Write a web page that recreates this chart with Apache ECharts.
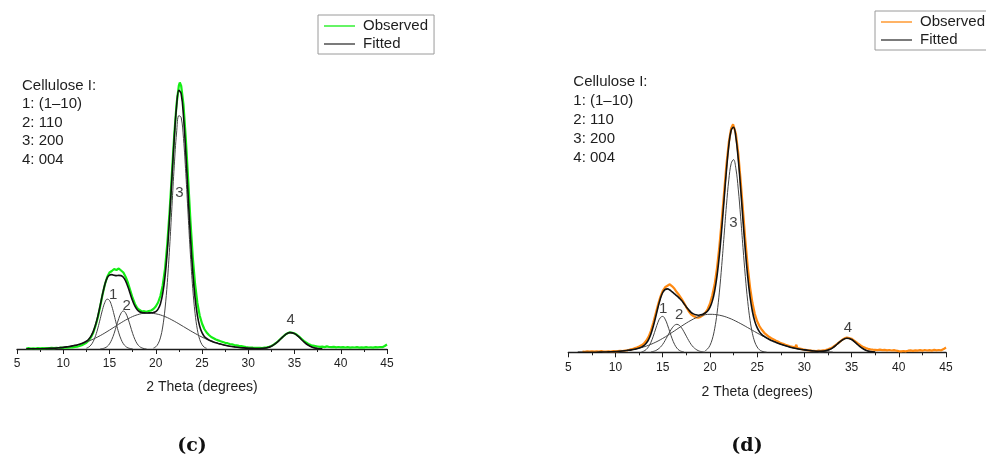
<!DOCTYPE html>
<html>
<head>
<meta charset="utf-8">
<script src="https://cdn.jsdelivr.net/npm/echarts@6/dist/echarts.min.js"></script>
<style>
html, body { margin: 0; padding: 0; background: #fff; }
#wrap { position: relative; width: 986px; height: 457px; overflow: hidden; }
.panel { position: absolute; top: 0; width: 493px; height: 457px; }
</style>
</head>
<body>
<div id="wrap">
	<div id="chartC" class="panel" style="left:0"></div>
	<div id="chartD" class="panel" style="left:493px"></div>
</div>
<script>
// intensities, arbitrary units, [2theta, I]
const cellNotes = ['Cellulose I:', '1: (1–10)', '2: 110', '3: 200', '4: 004'];

// ---- panel (c)
const obsC = [[6,0.5],[6.25,0.8],[6.5,0.4],[6.75,0.7],[7,0.5],[7.25,0.9],[7.5,0.6],[7.75,0.8],[8,0.7],[8.25,1.0],[8.5,0.8],[8.75,1.1],[9,0.9],[9.25,1.2],[9.5,1.0],[9.75,1.3],[10,1.1],[10.25,1.5],[10.5,1.3],[10.75,1.7],[11,1.6],[11.25,2.1],[11.5,2.4],[11.75,3.0],[12,3.8],[12.25,5.0],[12.5,6.3],[12.75,8.5],[13,11.8],[13.25,16.5],[13.5,23.5],[13.75,32.0],[14,43.0],[14.25,54.5],[14.5,64.5],[14.75,72.0],[15,76.5],[15.25,78.0],[15.5,80.0],[15.75,79.0],[16,80.5],[16.25,78.5],[16.5,76.5],[16.75,72.0],[17,66.0],[17.25,58.5],[17.5,51.0],[17.75,45.0],[18,41.0],[18.25,39.0],[18.5,37.5],[18.75,37.8],[19,37.2],[19.25,38.0],[19.5,38.5],[19.75,40.0],[20,42.5],[20.25,46.5],[20.5,53.0],[20.75,63.5],[21,80.0],[21.25,105.5],[21.5,138.0],[21.75,176.0],[22,214.0],[22.25,245.0],[22.5,263.5],[22.6,266.5],[22.75,263.0],[23,244.0],[23.25,210.0],[23.5,170.0],[23.75,128.0],[24,92.0],[24.25,65.0],[24.5,46.0],[24.75,33.5],[25,25.5],[25.25,20.0],[25.5,16.5],[25.75,14.0],[26,12.0],[26.25,10.8],[26.5,9.5],[26.75,8.6],[27,7.8],[27.25,7.0],[27.5,6.2],[27.75,5.8],[28,5.0],[28.25,4.6],[28.5,4.0],[28.75,3.6],[29,3.1],[29.25,2.8],[29.5,2.4],[29.75,2.0],[30,1.7],[30.25,1.5],[30.5,1.3],[30.75,1.2],[31,1.1],[31.25,1.2],[31.5,1.0],[31.75,1.4],[32,1.6],[32.25,2.2],[32.5,3.0],[32.75,4.3],[33,6.0],[33.25,8.0],[33.5,10.2],[33.75,12.3],[34,14.4],[34.25,15.8],[34.5,16.8],[34.75,16.2],[35,15.6],[35.25,14.2],[35.5,12.4],[35.75,10.3],[36,8.2],[36.25,6.5],[36.5,5.1],[36.75,4.0],[37,3.3],[37.25,2.9],[37.5,2.5],[37.75,2.1],[38,2.3],[38.25,1.9],[38.5,2.6],[38.75,2.0],[39,1.8],[39.25,2.2],[39.5,1.7],[39.75,2.0],[40,1.6],[40.25,1.9],[40.5,1.5],[40.75,1.8],[41,1.4],[41.25,1.7],[41.5,1.5],[41.75,1.9],[42,1.4],[42.25,1.6],[42.5,1.3],[42.75,1.8],[43,1.5],[43.25,1.7],[43.5,1.4],[43.75,1.9],[44,1.6],[44.25,2.0],[44.5,1.8],[44.75,3.0],[45,4.5]];
const fitC = [[6,0.1],[6.5,0.1],[7,0.2],[7.5,0.2],[8,0.4],[8.5,0.6],[9,0.8],[9.5,1.2],[10,1.6],[10.5,2.3],[11,3.1],[11.25,3.6],[11.5,4.1],[11.75,4.8],[12,5.5],[12.25,6.5],[12.5,7.8],[12.75,9.8],[13,12.9],[13.25,17.6],[13.5,24.4],[13.75,33.3],[14,43.8],[14.25,54.8],[14.5,64.5],[14.75,71.2],[15,73.8],[15.25,74.4],[15.5,73.8],[15.75,73.4],[16,73.6],[16.25,73.4],[16.5,71.8],[16.75,67.9],[17,61.9],[17.25,54.9],[17.5,48.2],[17.75,42.8],[18,39.3],[18.25,37.3],[18.5,36.5],[18.75,36.1],[19,36.0],[19.25,36.1],[19.5,36.2],[19.75,36.5],[20,37.4],[20.25,39.9],[20.5,45.1],[20.75,55.3],[21,72.4],[21.25,98.0],[21.5,132.0],[21.75,171.6],[22,211.0],[22.25,242.5],[22.5,258.6],[22.75,255.2],[23,232.8],[23.25,196.4],[23.5,153.7],[23.75,112.3],[24,77.4],[24.25,51.3],[24.5,33.6],[24.75,22.7],[25,16.3],[25.25,12.6],[25.5,10.5],[25.75,9.0],[26,7.9],[26.25,7.0],[26.5,6.2],[26.75,5.5],[27,4.9],[27.5,3.7],[28,2.8],[28.5,2.1],[29,1.5],[29.5,1.1],[30,0.8],[30.5,0.6],[31,0.4],[31.5,0.6],[32,1.2],[32.5,2.8],[33,5.8],[33.5,10.0],[34,14.2],[34.5,16.4],[35,15.4],[35.5,11.8],[36,7.3],[36.5,3.7],[37,1.5],[37.5,0.5],[38,0.1]];
const peak1C = [[12.5,0.8],[12.75,1.9],[13,4.0],[13.25,7.7],[13.5,13.4],[13.75,21.1],[14,30.3],[14.25,39.5],[14.5,46.6],[14.75,49.9],[15,48.5],[15.25,42.7],[15.5,34.1],[15.75,24.7],[16,16.2],[16.25,9.7],[16.5,5.2],[16.75,2.6],[17,1.1],[17.25,0.5],[17.5,0.2]];
const peak2C = [[14,0.1],[14.25,0.4],[14.5,1.1],[14.75,2.5],[15,5.1],[15.25,9.5],[15.5,15.6],[15.75,23.1],[16,30.4],[16.25,35.9],[16.5,38],[16.75,35.9],[17,30.4],[17.25,23.1],[17.5,15.6],[17.75,9.5],[18,5.1],[18.25,2.5],[18.5,1.1],[18.75,0.4],[19,0.1]];
const amorphC = [[7,0.2],[8,0.4],[9,0.8],[10,1.6],[11,3.1],[12,5.4],[13,8.9],[14,13.4],[15,18.9],[16,24.8],[17,30.2],[18,34.2],[19,35.9],[20,35.2],[21,32.4],[22,27.8],[23,22.4],[24,16.9],[25,11.9],[26,7.9],[27,4.9],[28,2.8],[29,1.5],[30,0.8],[31,0.4],[32,0.2]];
const peak3C = [[19.75,0.9],[20,2.2],[20.25,5.2],[20.5,11.1],[20.75,22.0],[21,40.0],[21.25,66.6],[21.5,101.7],[21.75,142.5],[22,183.2],[22.25,216.0],[22.5,233.4],[22.75,231.4],[23,210.4],[23.25,175.4],[23.5,134.1],[23.75,94.1],[24,60.5],[24.25,35.7],[24.5,19.3],[24.75,9.6],[25,4.4],[25.25,1.8],[25.5,0.7]];
const peak4C = [[31.5,0.3],[32,1.0],[32.5,2.7],[33,5.7],[33.5,10.0],[34,14.2],[34.5,16.4],[35,15.4],[35.5,11.8],[36,7.3],[36.5,3.7],[37,1.5],[37.5,0.5],[38,0.1]];
const labelsC = [[15.41,54,'1'],[16.86,43.3,'2'],[22.55,155.7,'3'],[34.59,29,'4']];

// ---- panel (d)
const obsD = [[6.5,0.8],[6.75,0.5],[7,0.9],[7.25,0.6],[7.5,1.0],[7.75,0.7],[8,0.9],[8.25,0.6],[8.5,1.1],[8.75,0.8],[9,0.7],[9.25,1.0],[9.5,0.8],[9.75,1.1],[10,0.9],[10.25,1.2],[10.5,1.4],[10.75,1.3],[11,1.8],[11.25,2.0],[11.5,2.6],[11.75,3.1],[12,3.9],[12.25,4.8],[12.5,5.8],[12.75,7.0],[13,8.8],[13.25,11.5],[13.5,15.5],[13.75,21.5],[14,29.5],[14.25,38.5],[14.5,47.5],[14.75,55.5],[15,61.5],[15.25,65.0],[15.5,66.5],[15.75,68.0],[16,66.0],[16.25,63.5],[16.5,60.0],[16.75,57.0],[17,53.5],[17.25,49.5],[17.5,45.0],[17.75,41.0],[18,38.0],[18.25,36.2],[18.5,35.0],[18.75,34.6],[19,35.4],[19.25,37.0],[19.5,39.5],[19.75,43.0],[20,48.5],[20.25,57.0],[20.5,68.0],[20.75,84.5],[21,106.0],[21.25,132.0],[21.5,160.0],[21.75,188.0],[22,210.0],[22.25,224.0],[22.45,228.0],[22.5,227.0],[22.75,218.5],[23,199.0],[23.25,172.0],[23.5,142.0],[23.75,112.0],[24,86.0],[24.25,65.0],[24.5,49.5],[24.75,38.5],[25,31.0],[25.25,26.0],[25.5,22.5],[25.75,19.5],[26,17.5],[26.25,15.5],[26.5,14.0],[26.75,12.8],[27,11.5],[27.25,10.5],[27.5,9.2],[27.75,8.5],[28,7.5],[28.25,6.8],[28.5,6.0],[28.75,5.4],[29,4.8],[29.15,7.5],[29.25,4.2],[29.5,3.8],[29.75,3.2],[30,2.6],[30.25,2.2],[30.5,1.9],[30.75,1.6],[31,1.5],[31.25,1.3],[31.5,1.6],[31.75,1.4],[32,1.9],[32.25,2.2],[32.5,3.0],[32.75,3.9],[33,5.1],[33.25,6.8],[33.5,8.6],[33.75,10.5],[34,12.4],[34.25,13.9],[34.5,14.8],[34.75,14.2],[35,13.6],[35.25,11.8],[35.5,10.2],[35.75,8.3],[36,6.6],[36.25,5.2],[36.5,4.2],[36.75,3.5],[37,3.0],[37.25,2.7],[37.5,2.5],[37.75,2.2],[38,2.6],[38.25,2.1],[38.5,2.4],[38.75,1.9],[39,2.3],[39.25,1.8],[39.5,2.2],[39.75,1.6],[40,1.2],[40.25,0.9],[40.5,1.3],[40.75,1.0],[41,1.6],[41.25,1.9],[41.5,1.5],[41.75,2.0],[42,1.7],[42.25,2.1],[42.5,1.6],[42.75,2.3],[43,1.8],[43.25,2.2],[43.5,1.7],[43.75,2.4],[44,1.9],[44.25,2.3],[44.5,2.0],[44.75,3.2],[45,4.8]];
const fitD = [[6,0.0],[6.5,0.0],[7,0.1],[7.5,0.1],[8,0.1],[8.5,0.2],[9,0.3],[9.5,0.5],[10,0.7],[10.5,1.1],[11,1.6],[11.25,1.9],[11.5,2.2],[11.75,2.6],[12,3.0],[12.25,3.5],[12.5,4.3],[12.75,5.2],[13,6.6],[13.25,9.0],[13.5,12.7],[13.75,18.4],[14,26.0],[14.25,35.3],[14.5,45.0],[14.75,53.6],[15,59.8],[15.25,62.8],[15.5,63.4],[15.75,62.3],[16,60.4],[16.25,58.4],[16.5,56.4],[16.75,54.2],[17,51.8],[17.25,48.6],[17.5,45.4],[17.75,42.5],[18,40.0],[18.25,38.4],[18.5,37.5],[18.75,37.1],[19,37.5],[19.25,38.1],[19.5,39.3],[19.75,41.2],[20,44.9],[20.25,51.2],[20.5,61.3],[20.75,76.4],[21,97.3],[21.25,123.5],[21.5,153.0],[21.75,182.3],[22,206.8],[22.25,222.1],[22.5,225.0],[22.75,214.8],[23,193.1],[23.25,164.1],[23.5,132.2],[23.75,101.8],[24,75.7],[24.25,55.3],[24.5,40.8],[24.75,30.9],[25,24.6],[25.25,20.4],[25.5,17.7],[25.75,15.9],[26,14.4],[26.25,13.0],[26.5,11.9],[26.75,10.9],[27,9.9],[27.5,8.1],[28,6.5],[28.5,5.1],[29,4.0],[29.5,3.1],[30,2.4],[30.5,1.8],[31,1.3],[31.5,1.1],[32,1.2],[32.5,2.2],[33,4.5],[33.5,8.3],[34,12.2],[34.5,14.1],[35,12.8],[35.5,8.9],[36,4.9],[36.5,2.1],[37,0.7],[37.5,0.2]];
const peak1D = [[12.75,0.5],[13,1.2],[13.25,2.8],[13.5,5.6],[13.75,10.0],[14,16.1],[14.25,23.3],[14.5,30.1],[14.75,34.7],[15,35.9],[15.25,33.2],[15.5,27.5],[15.75,20.4],[16,13.5],[16.25,8.0],[16.5,4.2],[16.75,2.0],[17,0.9],[17.25,0.3]];
const peak2D = [[13.75,0.4],[14,0.9],[14.25,1.7],[14.5,3.1],[14.75,5.1],[15,8.0],[15.25,11.8],[15.5,16.1],[15.75,20.5],[16,24.4],[16.25,27.0],[16.5,28.0],[16.75,27.0],[17,24.4],[17.25,20.5],[17.5,16.1],[17.75,11.8],[18,8.0],[18.25,5.1],[18.5,3.1],[18.75,1.7],[19,0.9],[19.25,0.4],[19.5,0.2]];
const amorphD = [[8,0.1],[9,0.3],[10,0.7],[11,1.6],[12,3.0],[13,5.4],[14,9.0],[15,13.9],[16,19.9],[17,26.2],[18,32.0],[19,36.3],[20,38.0],[21,37.1],[22,34.3],[23,29.9],[24,24.7],[25,19.3],[26,14.2],[27,9.9],[28,6.5],[29,4.0],[30,2.4],[31,1.3],[32,0.7],[33,0.3]];
const peak3D = [[19.5,1.6],[19.75,3.4],[20,6.9],[20.25,13.2],[20.5,23.5],[20.75,38.9],[21,60.2],[21.25,86.9],[21.5,117.1],[21.75,147.1],[22,172.5],[22.25,188.8],[22.5,192.7],[22.75,183.6],[23,163.2],[23.25,135.4],[23.5,104.8],[23.75,75.7],[24,51.0],[24.25,32.0],[24.5,18.8],[24.75,10.3],[25,5.3],[25.25,2.5],[25.5,1.1],[25.75,0.5],[26,0.2]];
const peak4D = [[31.5,0.1],[32,0.5],[32.5,1.7],[33,4.2],[33.5,8.1],[34,12.0],[34.5,14.0],[35,12.7],[35.5,8.9],[36,4.9],[36.5,2.1],[37,0.7],[37.5,0.2]];
const labelsD = [[15.06,43,'1'],[16.73,37,'2'],[22.48,129,'3'],[34.6,24.6,'4']];

const FONT = '"Liberation Sans", Arial, sans-serif';
const INK = '#1e1e1e';

function peakLine(name, data) {
	return {
		name: name, type: 'line', data: data, smooth: 0.4,
		symbol: 'none', silent: true, z: 3,
		lineStyle: { color: '#454545', width: 1 }
	};
}

function buildOption(p) {
	return {
		animation: false,
		textStyle: { fontFamily: FONT },
		grid: p.grid,
		legend: {
			data: [
				{ name: 'Observed', icon: 'rect', itemStyle: { color: p.colour, borderWidth: 0 } },
				{ name: 'Fitted', icon: 'rect', itemStyle: { color: '#333', borderWidth: 0 } }
			],
			orient: 'vertical',
			left: p.legend[0], top: p.legend[1],
			itemWidth: 31, itemHeight: 1.3, itemGap: 2,
			padding: [3, 6, 2, 6],
			borderColor: '#9a9a9a', borderWidth: 1, borderRadius: 0,
			backgroundColor: '#fff',
			selectedMode: false,
			textStyle: { fontSize: 15, color: INK, lineHeight: 16, padding: [0, 0, 0, 3] }
		},
		xAxis: {
			type: 'value', min: 5, max: 45, interval: 5,
			axisLine: { lineStyle: { color: INK, width: 1.3 } },
			axisTick: { show: true, length: 5, lineStyle: { color: INK } },
			minorTick: { show: true, splitNumber: 2, length: 3, lineStyle: { color: INK } },
			splitLine: { show: false },
			axisLabel: { fontSize: 12, color: INK, margin: 9 },
			name: '2 Theta (degrees)', nameLocation: 'middle', nameGap: p.nameGap,
			nameTextStyle: { fontSize: 14, color: INK }
		},
		yAxis: { type: 'value', min: 0, max: 300, show: false },
		graphic: [
			{
				type: 'text', x: p.notes[0], y: p.notes[1],
				style: { text: cellNotes.join('\n'), font: '15px ' + FONT, fill: INK,
					lineHeight: p.notes[2], align: 'left', verticalAlign: 'top' }
			},
			{
				type: 'text', x: p.tag[0], y: p.tag[1],
				style: { text: p.tag[2], font: 'bold 19px "DejaVu Serif", serif', fill: '#111',
					align: 'center', verticalAlign: 'middle' }
			}
		],
		series: [
			{
				name: 'Observed', type: 'line', data: p.obs, symbol: 'none',
				silent: true, z: 2,
				itemStyle: { color: p.colour },
				lineStyle: { color: p.colour, width: 2.2 }
			},
			peakLine('Peak 1', p.peak1),
			peakLine('Peak 2', p.peak2),
			peakLine('Amorphous', p.amorph),
			peakLine('Peak 3', p.peak3),
			peakLine('Peak 4', p.peak4),
			{
				name: 'Fitted', type: 'line', data: p.fit, smooth: 0.4, symbol: 'none',
				silent: true, z: 4,
				itemStyle: { color: '#111' },
				lineStyle: { color: '#111', width: 1.6 }
			},
			{
				name: 'labels', type: 'scatter', data: p.labels, symbolSize: 0, silent: true, z: 5,
				label: { show: true, position: 'inside', fontSize: 15, color: '#111',
					textBorderWidth: 0, formatter: (d) => d.data[2] }
			}
		]
	};
}

let chartC = echarts.init(document.getElementById('chartC'), null, { renderer: 'canvas' });
chartC.setOption(buildOption({
	grid: { left: 17, right: 106, top: 49, bottom: 108 },
	legend: [318, 15], nameGap: 31,
	notes: [22, 76.5, 18.5], tag: [192, 446, '(c)'],
	colour: '#14ee14',
	obs: obsC, fit: fitC, peak1: peak1C, peak2: peak2C, amorph: amorphC,
	peak3: peak3C, peak4: peak4C, labels: labelsC
}));

let chartD = echarts.init(document.getElementById('chartD'), null, { renderer: 'canvas' });
chartD.setOption(buildOption({
	grid: { left: 75.3, right: 40, top: 52.3, bottom: 104.7 },
	legend: [382, 11], nameGap: 32.5,
	notes: [80.3, 72.1, 19.15], tag: [254, 446, '(d)'],
	colour: '#ff8a12',
	obs: obsD, fit: fitD, peak1: peak1D, peak2: peak2D, amorph: amorphD,
	peak3: peak3D, peak4: peak4D, labels: labelsD
}));
</script>
</body>
</html>
